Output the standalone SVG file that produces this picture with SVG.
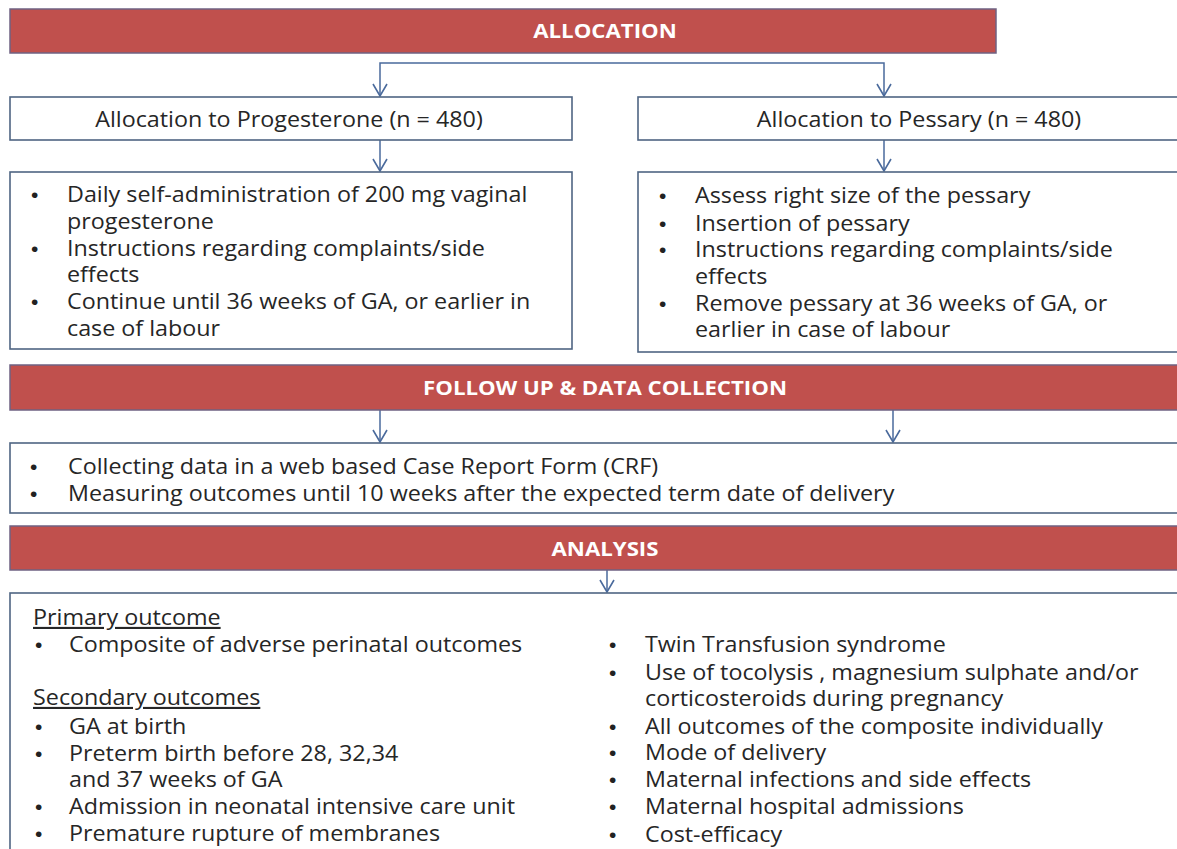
<svg xmlns="http://www.w3.org/2000/svg" width="1177" height="849" viewBox="0 0 1177 849">
<defs>
<marker id="arr" viewBox="0 0 14 16" refX="13" refY="8" markerWidth="14" markerHeight="16" markerUnits="userSpaceOnUse" orient="auto-start-reverse">
<path d="M1,1 L13,8 L1,15" fill="none" stroke="#4A6A9C" stroke-width="1.6"/>
</marker>
<style>
.bar{fill:#C0504D;stroke:#6F6282;stroke-width:1.5}
.bt{font-family:"Open Sans","Liberation Sans",sans-serif;font-weight:bold;font-size:19px;fill:#fff;text-anchor:middle}
.box{fill:#fff;stroke:#4F6583;stroke-width:1.6}
.t{font-family:"Open Sans","Liberation Sans",sans-serif;font-size:21px;fill:#262626}
.b{font-family:"Liberation Sans",Arial,sans-serif;font-size:21px;fill:#222}
.u{text-decoration:underline}
.c{fill:none;stroke:#4A6A9C;stroke-width:1.5}
</style>
</defs>
<rect width="1177" height="849" fill="#fff"/>

<g id="connectors">
<path class="c" d="M380,96 V63 H884 V96" marker-start="url(#arr)" marker-end="url(#arr)"/>
<path class="c" d="M380,140 V171" marker-end="url(#arr)"/>
<path class="c" d="M884,140 V171" marker-end="url(#arr)"/>
<path class="c" d="M380,410 V442" marker-end="url(#arr)"/>
<path class="c" d="M893,410 V442" marker-end="url(#arr)"/>
<path class="c" d="M607,570 V592" marker-end="url(#arr)"/>
</g>

<g id="allocation">
<rect class="bar" x="10" y="9" width="986" height="44"/>
<text class="bt" x="605" y="38" transform="matrix(1.17,0,0,1,-102.85,0)">ALLOCATION</text>
</g>

<g id="progesterone">
<rect class="box" x="10" y="97" width="562" height="43"/>
<text class="t" x="289" y="127" text-anchor="middle" transform="matrix(1.11,0,0,1,-31.79,0)">Allocation to Progesterone (n = 480)</text>
</g>

<g id="pessary">
<rect class="box" x="638" y="97" width="545" height="43"/>
<text class="t" x="919" y="127" text-anchor="middle" transform="matrix(1.11,0,0,1,-101.09,0)">Allocation to Pessary (n = 480)</text>
</g>

<g id="progesterone-details">
<rect class="box" x="10" y="172" width="562" height="177"/>
<g class="b">
<text x="31" y="202">•</text><text x="31" y="256">•</text><text x="31" y="309">•</text>
</g>
<g class="t" transform="matrix(1.11,0,0,1,-7.37,2)">
<text x="67" y="200">Daily self-administration of 200 mg vaginal</text>
<text x="67" y="227">progesterone</text>
<text x="67" y="254">Instructions regarding complaints/side</text>
<text x="67" y="280">effects</text>
<text x="67" y="307">Continue until 36 weeks of GA, or earlier in</text>
<text x="67" y="334">case of labour</text>
</g>
</g>

<g id="pessary-details">
<rect class="box" x="638" y="172" width="545" height="180"/>
<g class="b">
<text x="659" y="203">•</text><text x="659" y="231">•</text><text x="659" y="257">•</text><text x="659" y="311">•</text>
</g>
<g class="t" transform="matrix(1.11,0,0,1,-76.45,2)">
<text x="695" y="201">Assess right size of the pessary</text>
<text x="695" y="229">Insertion of pessary</text>
<text x="695" y="255">Instructions regarding complaints/side</text>
<text x="695" y="282">effects</text>
<text x="695" y="309">Remove pessary at 36 weeks of GA, or</text>
<text x="695" y="335">earlier in case of labour</text>
</g>
</g>

<g id="follow-up">
<rect class="bar" x="10" y="365" width="1180" height="45"/>
<text class="bt" x="605" y="395" transform="matrix(1.17,0,0,1,-102.85,0)">FOLLOW UP &amp; DATA COLLECTION</text>
</g>

<g id="data-collection">
<rect class="box" x="10" y="443" width="1180" height="70"/>
<g class="b">
<text x="30" y="474">•</text><text x="30" y="501">•</text>
</g>
<g class="t" transform="matrix(1.11,0,0,1,-7.48,2)">
<text x="68" y="472">Collecting data in a web based Case Report Form (CRF)</text>
<text x="68" y="499">Measuring outcomes until 10 weeks after the expected term date of delivery</text>
</g>
</g>

<g id="analysis">
<rect class="bar" x="10" y="526" width="1180" height="44"/>
<text class="bt" x="605" y="556" transform="matrix(1.17,0,0,1,-102.85,0)">ANALYSIS</text>
</g>

<g id="outcomes">
<rect class="box" x="10" y="593" width="1180" height="270"/>
<g class="b">
<text x="35" y="652">•</text><text x="35" y="734">•</text><text x="35" y="761">•</text><text x="35" y="814">•</text><text x="35" y="841">•</text>
<text x="609" y="652">•</text><text x="609" y="680">•</text><text x="609" y="734">•</text><text x="609" y="760">•</text><text x="609" y="787">•</text><text x="609" y="814">•</text><text x="609" y="842">•</text>
</g>
<g class="t" transform="matrix(1.11,0,0,1,-7.59,2)">
<text x="36.6" y="623" class="u">Primary outcome</text>
<text x="69" y="650">Composite of adverse perinatal outcomes</text>
<text x="36.6" y="703" class="u">Secondary outcomes</text>
<text x="69" y="732">GA at birth</text>
<text x="69" y="759">Preterm birth before 28, 32,34</text>
<text x="69" y="785">and 37 weeks of GA</text>
<text x="69" y="812">Admission in neonatal intensive care unit</text>
<text x="69" y="839">Premature rupture of membranes</text>
</g>
<g class="t" transform="matrix(1.11,0,0,1,-70.95,2)">
<text x="645" y="650">Twin Transfusion syndrome</text>
<text x="645" y="678">Use of tocolysis , magnesium sulphate and/or</text>
<text x="645" y="704">corticosteroids during pregnancy</text>
<text x="645" y="732">All outcomes of the composite individually</text>
<text x="645" y="758">Mode of delivery</text>
<text x="645" y="785">Maternal infections and side effects</text>
<text x="645" y="812">Maternal hospital admissions</text>
<text x="645" y="840">Cost-efficacy</text>
</g>
</g>
</svg>
